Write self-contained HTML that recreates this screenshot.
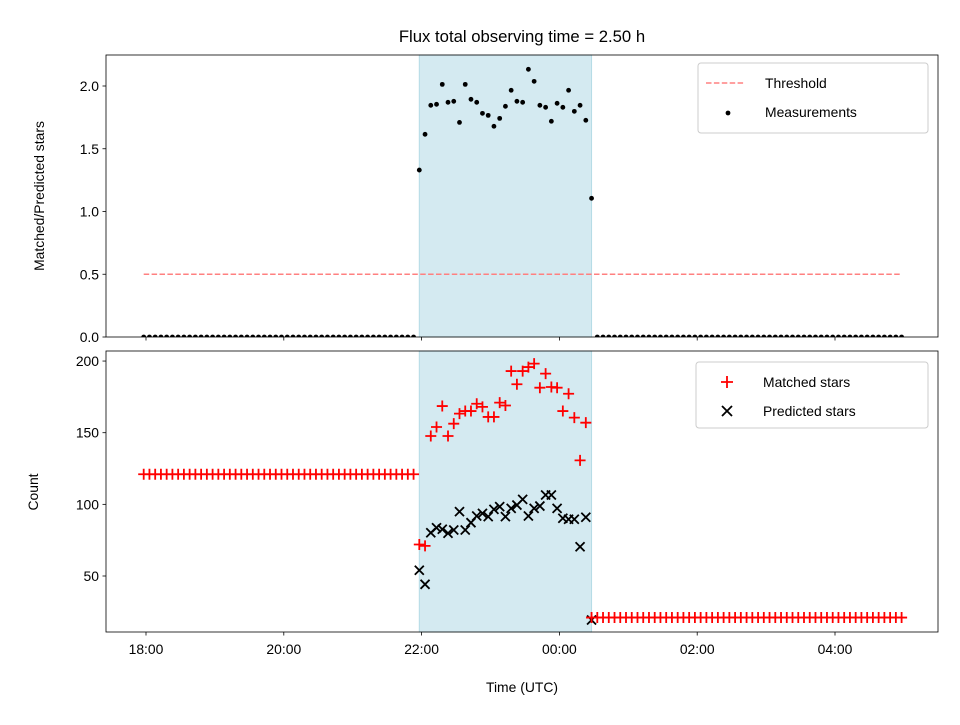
<!DOCTYPE html>
<html><head><meta charset="utf-8"><style>
body{margin:0;background:#fff}
svg text{font-family:"Liberation Sans","DejaVu Sans",sans-serif;fill:#000}
</style></head><body>
<svg id="chart" width="960" height="720" viewBox="0 0 960 720" xmlns="http://www.w3.org/2000/svg">
<defs>
<clipPath id="clipTop"><rect x="106" y="55" width="832" height="282"/></clipPath>
<clipPath id="clipBot"><rect x="106" y="351" width="832" height="281"/></clipPath>
</defs>
<rect width="960" height="720" fill="#fff"/>
<text x="522" y="42" text-anchor="middle" font-size="16.7">Flux total observing time = 2.50 h</text>
<g id="topPanel"></g>
<g id="botPanel"></g>
<text x="522" y="692" text-anchor="middle" font-size="13.9">Time (UTC)</text>
<text transform="translate(44,196) rotate(-90)" text-anchor="middle" font-size="13.9">Matched/Predicted stars</text>
<text transform="translate(38,492) rotate(-90)" text-anchor="middle" font-size="13.9">Count</text>
</svg>
<script>
const NS="http://www.w3.org/2000/svg";
const startMin=-2, stepMin=5, nPoints=133;
const nightStartMin=238, nightEndMin=388;
const threshold=0.5;
const ratioNight=[1.33,1.615,1.846,1.854,2.013,1.870,1.878,1.71,2.013,1.894,1.870,1.782,1.766,1.679,1.742,1.838,1.966,1.878,1.870,2.133,2.037,1.846,1.830,1.719,1.862,1.830,1.966,1.798,1.846,1.727,1.105];
const matchedNight=[72,71,147.7,154,168.6,147.7,156.3,163.3,165.1,165.1,170.2,168,161,161,171,169,193,183.8,193,195.8,198.2,181.4,191.2,181.9,181.4,165.1,177.2,160.5,130.7,157,21];
const predictedNight=[54,44.2,80.2,83.7,82.6,79.8,82.1,94.9,82.1,87.2,91.9,93.7,91.4,96.5,98.4,91.4,97.2,99.5,103.5,91.9,97.2,98.8,106.5,106.5,97.2,90.3,89.6,89.6,70.4,91,19.3];
const matchedBefore=121, matchedAfter=21;
const nightStartIdx=48;
const xTickLabels=["18:00","20:00","22:00","00:00","02:00","04:00"];
const xTickMins=[0,120,240,360,480,600];
const topTicks=[0,0.5,1,1.5,2];
const botTicks=[50,100,150,200];

const times=[],ratio=[],matched=[],predicted=[];
for(let i=0;i<nPoints;i++){
  times.push(startMin+stepMin*i);
  const k=i-nightStartIdx;
  if(k>=0&&k<ratioNight.length){ratio.push(ratioNight[k]);matched.push(matchedNight[k]);predicted.push(predictedNight[k]);}
  else{ratio.push(0);predicted.push(0);matched.push(k<0?matchedBefore:matchedAfter);}
}
const X=m=>146+m*68.9/60;
const YT=v=>337-v*125.5;
const YB=v=>576-(v-50)*1.433;
function el(t,a,p){const e=document.createElementNS(NS,t);for(const k in a)e.setAttribute(k,a[k]);p.appendChild(e);return e;}
function panel(g,y0,h,yFn,ticks,fmt,showX,clip){
  const sh=el('rect',{x:X(nightStartMin),y:y0,width:X(nightEndMin)-X(nightStartMin),height:h,fill:'#d4eaf1',stroke:'#b5dbe6','stroke-width':1},g);
  
  
  ticks.forEach(v=>{const y=yFn(v);
    el('line',{x1:102.5,x2:106,y1:y,y2:y,stroke:'#000','stroke-width':0.8},g);
    const t=el('text',{x:99,y:y+5,'text-anchor':'end','font-size':13.9},g);t.textContent=fmt(v);
    
    });
  xTickMins.forEach((m,i)=>{const x=X(m);
    el('line',{x1:x,x2:x,y1:y0+h,y2:y0+h+3.5,stroke:'#000','stroke-width':0.8},g);
    if(showX){const t=el('text',{x:x,y:y0+h+22,'text-anchor':'middle','font-size':13.9},g);t.textContent=xTickLabels[i];
      
      }});
  const c=el('g',{'clip-path':`url(#${clip})`},g);
  return c;
}
const topG=document.getElementById('topPanel'),botG=document.getElementById('botPanel');
const ct=panel(topG,55,282,YT,topTicks,v=>v.toFixed(1),false,'clipTop');
const th=el('line',{x1:X(times[0]),x2:X(times[nPoints-1]),y1:YT(threshold),y2:YT(threshold),stroke:'#ff8080','stroke-width':1.5,'stroke-dasharray':'5.5,2.4'},ct);


times.forEach((m,i)=>{const d=el('circle',{cx:X(m),cy:YT(ratio[i]),r:2.4,fill:'#000'},ct);
  
  });
const cb=panel(botG,351,281,YB,botTicks,v=>String(v),true,'clipBot');
times.forEach((m,i)=>{const x=X(m),y=YB(predicted[i]),s=4.5;
  const p=el('path',{d:`M${x-s},${y-s}L${x+s},${y+s}M${x-s},${y+s}L${x+s},${y-s}`,stroke:'#000','stroke-width':1.8,fill:'none'},cb);
  
  });
times.forEach((m,i)=>{const x=X(m),y=YB(matched[i]),s=5.5;
  const p=el('path',{d:`M${x-s},${y}L${x+s},${y}M${x},${y-s}L${x},${y+s}`,stroke:'#f00','stroke-width':1.8,fill:'none'},cb);
  
  });
[[55,282],[351,281]].forEach(([y,h])=>el('rect',{x:106,y:y,width:832,height:h,fill:'none',stroke:'#000','stroke-width':0.8},document.getElementById('chart')));
function legend(x,y,w,h,items,name){
  const g=el('g',{},document.getElementById('chart'));
  
  
  el('rect',{x:x,y:y,width:w,height:h,rx:3,fill:'#fff','fill-opacity':0.8,stroke:'#ccc'},g);
  items.forEach((it,i)=>{const cy=y+20+i*29;
    it.draw(g,x+27,cy);
    const t=el('text',{x:x+67,y:cy+5,'font-size':13.9},g);t.textContent=it.label;});
}
legend(698,63,230,70,[
 {label:'Threshold',draw:(g,x,y)=>el('line',{x1:x-19,x2:x+19,y1:y,y2:y,stroke:'#ff8080','stroke-width':1.5,'stroke-dasharray':'5.5,2.4'},g)},
 {label:'Measurements',draw:(g,x,y)=>el('circle',{cx:x+3,cy:y+1,r:2.4,fill:'#000'},g)}
],'top-legend');
legend(696,362,232,66,[
 {label:'Matched stars',draw:(g,x,y)=>el('path',{d:`M${x-2},${y}L${x+10},${y}M${x+4},${y-6}L${x+4},${y+6}`,stroke:'#f00','stroke-width':1.8},g)},
 {label:'Predicted stars',draw:(g,x,y)=>el('path',{d:`M${x-1},${y-5}L${x+9},${y+5}M${x-1},${y+5}L${x+9},${y-5}`,stroke:'#000','stroke-width':1.8},g)}
],'bottom-legend');
</script>
</body></html>
